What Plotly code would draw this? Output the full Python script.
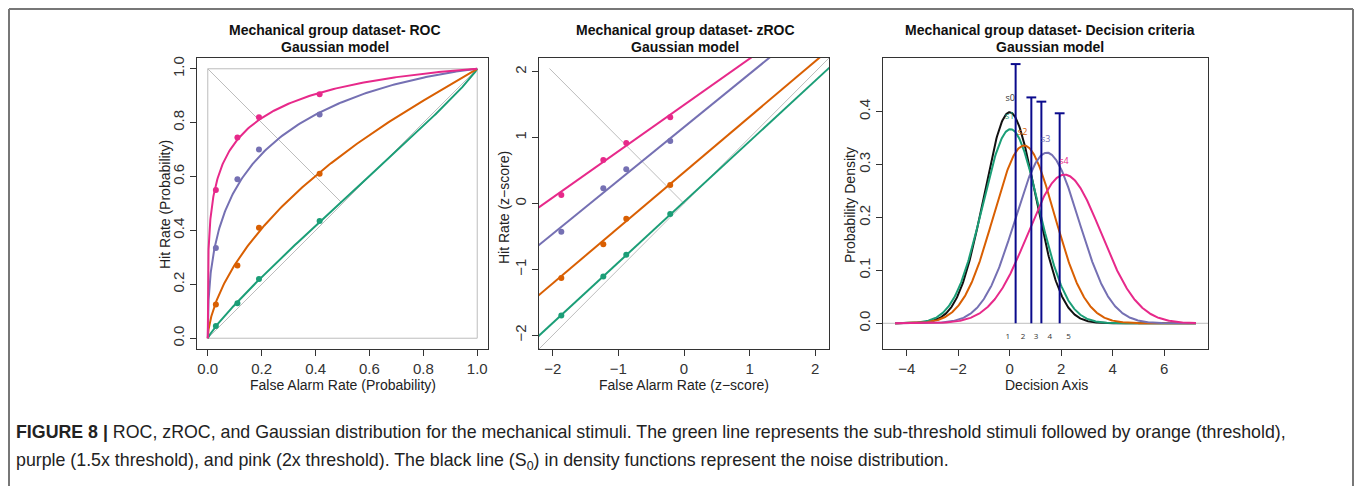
import math

import numpy as np
import plotly.graph_objects as go

W, H = 1355, 486

COLORS = ["#1B9E77", "#D95F02", "#7570B3", "#E7298A"]
NOISE_COLOR = "#111111"
CRIT_COLOR = "#0A0A8C"
REF_GREY = "#BDBDBD"

# observed points, one list per stimulus level (green, orange, purple, pink)
FA_RATE = [0.03, 0.11, 0.19, 0.415]
HIT_RATE = [
    [0.045, 0.13, 0.22, 0.435],
    [0.125, 0.27, 0.41, 0.61],
    [0.335, 0.59, 0.70, 0.83],
    [0.55, 0.745, 0.82, 0.905],
]
FA_Z = [-1.87, -1.23, -0.88, -0.21]
HIT_Z = [
    [-1.70, -1.11, -0.78, -0.16],
    [-1.13, -0.62, -0.23, 0.28],
    [-0.43, 0.23, 0.52, 0.95],
    [0.13, 0.66, 0.92, 1.31],
]

# fitted gaussian model (zROC intercept / slope, distribution mean / sd)
Z_INTERCEPT = [0.025, 0.474, 1.16, 1.497]
Z_SLOPE = [0.92, 0.843, 0.81, 0.703]
DIST_NAMES = ["s0", "s1", "s2", "s3", "s4"]
DIST_MEAN = [0.0, 0.03, 0.56, 1.44, 2.13]
DIST_SD = [1.0, 1.087, 1.187, 1.237, 1.42]
DIST_X_SPAN = [-4.45, 7.23]

CRITERIA = [0.23, 0.84, 1.23, 1.94]
CRITERIA_TOP = [0.49, 0.427, 0.419, 0.397]
REGION_LABELS = ["1", "2", "3", "4", "5"]
REGION_X = [-0.07, 0.52, 1.02, 1.56, 2.28]
DIST_LABEL_X = [0.02, 0.0, 0.5, 1.4, 2.11]
DIST_LABEL_Y = [0.424, 0.39, 0.361, 0.347, 0.305]

ROC_SQUARE_X = [0, 1, 1, 0, 0]
ROC_SQUARE_Y = [0, 0, 1, 1, 0]
ROC_ANTI_X = [0, 0.5]
ROC_ANTI_Y = [1, 0.5]
Z_ANTI_X = [-2.05, 0]
Z_ANTI_Y = [2.05, 0]

erf = np.vectorize(math.erf)


def phi(z):
    return 0.5 * (1 + erf(np.asarray(z) / math.sqrt(2)))


def px(x):
    return x / W


def py(y):
    return 1 - y / H


fig = go.Figure()

# ---- ROC panel
fig.add_trace(go.Scatter(x=ROC_SQUARE_X, y=ROC_SQUARE_Y, mode="lines", line=dict(color=REF_GREY, width=1), xaxis="x", yaxis="y"))
fig.add_trace(go.Scatter(x=[0, 1], y=[0, 1], mode="lines", line=dict(color=REF_GREY, width=1), xaxis="x", yaxis="y"))
fig.add_trace(go.Scatter(x=ROC_ANTI_X, y=ROC_ANTI_Y, mode="lines", line=dict(color=REF_GREY, width=1), xaxis="x", yaxis="y"))
z_grid = np.linspace(-7, 7, 600)
for a, b, hits, color in zip(Z_INTERCEPT, Z_SLOPE, HIT_RATE, COLORS):
    fig.add_trace(go.Scatter(x=phi(z_grid), y=phi(a + b * z_grid), mode="lines", line=dict(color=color, width=2), xaxis="x", yaxis="y"))
    fig.add_trace(go.Scatter(x=FA_RATE, y=hits, mode="markers", marker=dict(color=color, size=6), xaxis="x", yaxis="y"))

# ---- zROC panel
fig.add_trace(go.Scatter(x=[-2.3, 2.3], y=[-2.3, 2.3], mode="lines", line=dict(color=REF_GREY, width=1), xaxis="x2", yaxis="y2"))
fig.add_trace(go.Scatter(x=Z_ANTI_X, y=Z_ANTI_Y, mode="lines", line=dict(color=REF_GREY, width=1), xaxis="x2", yaxis="y2"))
zx = np.array([-2.3, 2.3])
for a, b, hits, color in zip(Z_INTERCEPT, Z_SLOPE, HIT_Z, COLORS):
    fig.add_trace(go.Scatter(x=zx, y=a + b * zx, mode="lines", line=dict(color=color, width=2), xaxis="x2", yaxis="y2"))
    fig.add_trace(go.Scatter(x=FA_Z, y=hits, mode="markers", marker=dict(color=color, size=6), xaxis="x2", yaxis="y2"))

# ---- decision criteria panel
fig.add_trace(go.Scatter(x=[-10, 10], y=[0, 0], mode="lines", line=dict(color=REF_GREY, width=1), xaxis="x3", yaxis="y3"))
dx = np.linspace(DIST_X_SPAN[0], DIST_X_SPAN[1], 500)
for mean, sd, color in zip(DIST_MEAN, DIST_SD, [NOISE_COLOR] + COLORS):
    dens = np.exp(-0.5 * ((dx - mean) / sd) ** 2) / (sd * math.sqrt(2 * math.pi))
    fig.add_trace(go.Scatter(x=dx, y=dens, mode="lines", line=dict(color=color, width=2), xaxis="x3", yaxis="y3"))
crit_x, crit_y = [], []
for c, top in zip(CRITERIA, CRITERIA_TOP):
    crit_x += [c, c, None]
    crit_y += [0, top, None]
fig.add_trace(go.Scatter(x=crit_x, y=crit_y, mode="lines", line=dict(color=CRIT_COLOR, width=2), xaxis="x3", yaxis="y3"))
fig.add_trace(go.Scatter(x=CRITERIA, y=CRITERIA_TOP, mode="markers",
                         marker=dict(symbol="line-ew", size=7, line=dict(color=CRIT_COLOR, width=2)),
                         xaxis="x3", yaxis="y3"))
fig.add_trace(go.Scatter(x=REGION_X, y=[-0.026] * len(REGION_X), mode="text", text=REGION_LABELS,
                         textfont=dict(size=8, color="#333"), xaxis="x3", yaxis="y3"))
fig.add_trace(go.Scatter(x=DIST_LABEL_X, y=DIST_LABEL_Y, mode="text", text=DIST_NAMES,
                         textfont=dict(size=9, color=["#333"] + COLORS), xaxis="x3", yaxis="y3"))

ydom = [py(349), py(58)]
axis_common = dict(showline=True, mirror=True, linecolor="#333", linewidth=1, ticks="outside", ticklen=6,
                   tickcolor="#333", tickfont=dict(family="Liberation Sans, Arial", size=15, color="#333"),
                   showgrid=False, zeroline=False, fixedrange=True, automargin=False)
fig.update_layout(
    width=W, height=H, margin=dict(l=0, r=0, t=0, b=0, autoexpand=False),
    paper_bgcolor="white", plot_bgcolor="white", showlegend=False,
    xaxis=dict(domain=[px(197), px(488)], range=[-0.04, 1.04], tickvals=[0, 0.2, 0.4, 0.6, 0.8, 1.0], tickformat=".1f", anchor="y", **axis_common),
    yaxis=dict(domain=ydom, range=[-0.04, 1.04], tickvals=[0, 0.2, 0.4, 0.6, 0.8, 1.0], tickformat=".1f", tickangle=-90, anchor="x", **axis_common),
    xaxis2=dict(domain=[px(539), px(829)], range=[-2.21, 2.21], tickvals=[-2, -1, 0, 1, 2], ticktext=["\u22122", "\u22121", "0", "1", "2"], anchor="y2", **axis_common),
    yaxis2=dict(domain=ydom, range=[-2.21, 2.21], tickvals=[-2, -1, 0, 1, 2], ticktext=["\u22122", "\u22121", "0", "1", "2"], tickangle=-90, anchor="x2", **axis_common),
    xaxis3=dict(domain=[px(883), px(1208)], range=[-4.92, 7.70], tickvals=[-4, -2, 0, 2, 4, 6], ticktext=["\u22124", "\u22122", "0", "2", "4", "6"], anchor="y3", **axis_common),
    yaxis3=dict(domain=ydom, range=[-0.0486, 0.5015], tickvals=[0, 0.1, 0.2, 0.3, 0.4], tickformat=".1f", tickangle=-90, anchor="x3", **axis_common),
)

title_font = dict(family="Liberation Sans, Arial", size=14, color="#111")
label_font = dict(family="Liberation Sans, Arial", size=14, color="#222")
titles = [
    (335, "Mechanical group dataset- ROC"),
    (685, "Mechanical group dataset- zROC"),
    (1050, "Mechanical group dataset- Decision criteria"),
]
for cx, text in titles:
    fig.add_annotation(x=px(cx), y=py(30), xref="paper", yref="paper", xanchor="center", yanchor="middle",
                       text="<b>" + text + "</b>", showarrow=False, font=title_font)
    fig.add_annotation(x=px(cx), y=py(47), xref="paper", yref="paper", xanchor="center", yanchor="middle",
                       text="<b>Gaussian model</b>", showarrow=False, font=title_font)

x_titles = [(343, "False Alarm Rate (Probability)"), (684, "False Alarm Rate (z\u2212score)"), (1046, "Decision Axis")]
for cx, text in x_titles:
    fig.add_annotation(x=px(cx), y=py(385), xref="paper", yref="paper", xanchor="center", yanchor="middle",
                       text=text, showarrow=False, font=label_font)
y_titles = [(165, 205, "Hit Rate (Probability)"), (504, 208, "Hit Rate (z\u2212score)"), (850, 205, "Probability Density")]
for cx, cy, text in y_titles:
    fig.add_annotation(x=px(cx), y=py(cy), xref="paper", yref="paper", xanchor="center", yanchor="middle",
                       text=text, textangle=-90, showarrow=False, font=label_font)

caption_font = dict(family="Liberation Sans, Arial", size=17.8, color="#222")
fig.add_annotation(x=px(14), y=py(432), xref="paper", yref="paper", xanchor="left", yanchor="middle", showarrow=False, font=caption_font,
                   text="<b>FIGURE 8 |</b> ROC, zROC, and Gaussian distribution for the mechanical stimuli. The green line represents the sub-threshold stimuli followed by orange (threshold),")
fig.add_annotation(x=px(14), y=py(461), xref="paper", yref="paper", xanchor="left", yanchor="middle", showarrow=False, font=caption_font,
                   text="purple (1.5x threshold), and pink (2x threshold). The black line (S<sub>0</sub>) in density functions represent the noise distribution.")

frame = dict(color="#777", width=2)
fig.add_shape(type="line", xref="paper", yref="paper", x0=px(9), x1=px(1353), y0=py(9), y1=py(9), line=frame)
fig.add_shape(type="line", xref="paper", yref="paper", x0=px(9), x1=px(9), y0=py(9), y1=py(490), line=frame)
fig.add_shape(type="line", xref="paper", yref="paper", x0=px(1353), x1=px(1353), y0=py(9), y1=py(490), line=frame)

fig.write_html("out.html", config={"displayModeBar": False}, post_script="document.body.style.margin = '0';")
